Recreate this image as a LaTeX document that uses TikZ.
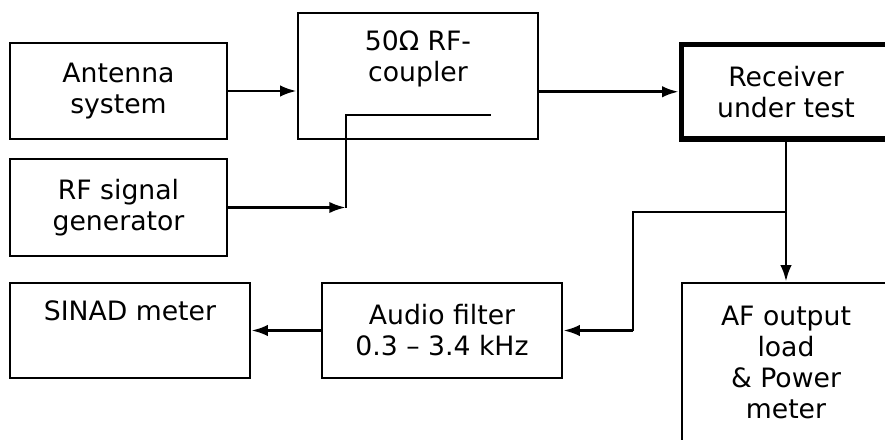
\documentclass[tikz,border=0pt]{standalone}
\usepackage{fontspec}
\setmainfont{DejaVu Sans}
\usetikzlibrary{arrows.meta,positioning}

\begin{document}
\begin{tikzpicture}[x=0.75pt, y=-0.75pt, >={Latex[length=12.5pt,width=8.5pt]},
    font=\fontsize{20}{23.25}\selectfont]
        \tikzset{
          blk/.style={draw, rectangle, line width=1.7pt, inner sep=0pt, align=center},
          arr/.style={->, line width=2.2pt},
          thn/.style={line width=1.3pt}
        }
        \useasboundingbox (0,0) rectangle (885,439);
        \clip (0,0) rectangle (885,439);
        %% --- RF side ---
        \node[blk, minimum width=162.75pt, minimum height=72pt]   (ant) at (118.5,91)  {Antenna\\system};
        \node[blk, minimum width=162.75pt, minimum height=72.75pt] (gen) at (118.5,207.5) {RF signal\\generator};
        \node[blk, minimum width=180pt, minimum height=94.5pt]    (cpl) at (418,76)    {50Ω RF-\\coupler\\\strut};
        \node[blk, line width=4pt, minimum width=156.75pt, minimum height=70.9pt] (rx) at (786,91.75) {Receiver\\under test};
        \coordinate (tap)    at (346,207.5);
        \coordinate (tapend) at (491,115);
        \draw[arr] (ant.east) -- (ant.east -| cpl.west);
        \draw[arr] (cpl.east |- rx.west) -- (rx.west);
        \draw[arr] (gen.east) -- (tap);
        \draw[thn] (tap) |- (tapend);
        %% --- AF side ---
        \node[blk, minimum width=156pt, minimum height=118.5pt] (af)  at (786,362)   {AF output\\load\\\& Power\\meter};
        \node[blk, minimum width=180pt, minimum height=71.25pt] (flt) at (442,330.5) {Audio filter\\0.3 – 3.4 kHz};
        \node[blk, minimum width=180pt, minimum height=71.25pt] (sin) at (130,330.5) {SINAD meter\\\strut};
        \coordinate (br)   at (786,212);
        \coordinate (bend) at (633,212);
        \draw[arr] (rx.south) -- (af.north);
        \draw[thn] (br) -- (bend) -- (bend |- flt.east);
        \draw[arr] (bend |- flt.east) -- (flt.east);
        \draw[arr] (flt.west) -- (sin.east);
    \end{tikzpicture}
\end{document}
